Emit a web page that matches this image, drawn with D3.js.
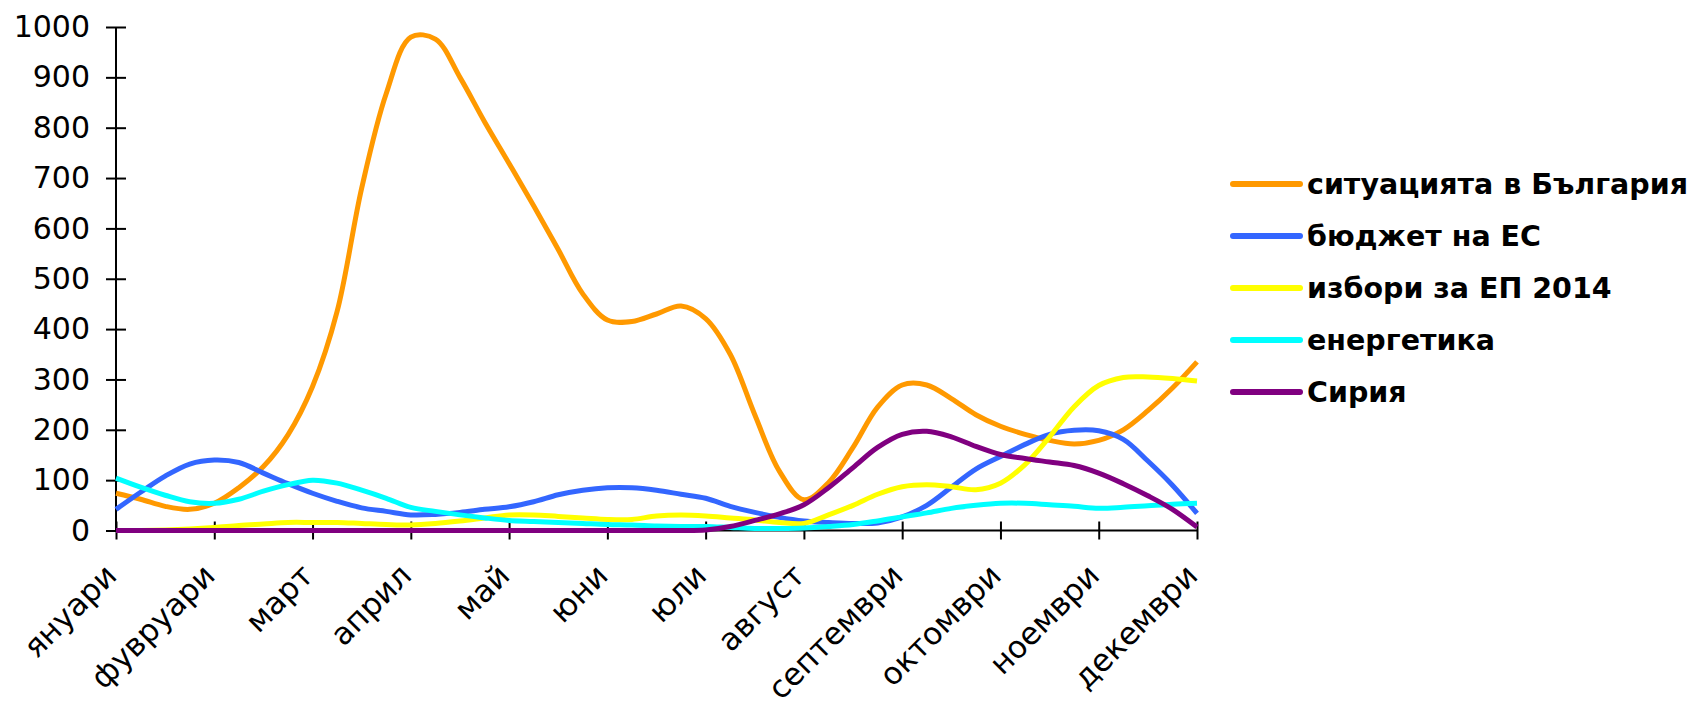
<!DOCTYPE html>
<html>
<head>
<meta charset="utf-8">
<script src="https://cdn.jsdelivr.net/npm/d3@7"></script>
<style>
  html, body { margin: 0; padding: 0; background: #ffffff; }
  svg { display: block; }
</style>
</head>
<body>
<svg id="chart" width="1694" height="713"></svg>
<script>
// ---- Data (values read at quarter-month steps, Jan .. Dec) ----
const months = ["януари", "фувруари", "март", "април", "май", "юни", "юли", "август", "септември", "октомври", "ноември", "декември"];
const yTicks = [0, 100, 200, 300, 400, 500, 600, 700, 800, 900, 1000];
const seriesNames = ["ситуацията в България", "бюджет на ЕС", "избори за ЕП 2014", "енергетика", "Сирия"];
const seriesColors = ["#FF9900", "#3366FF", "#FFFF00", "#00FFFF", "#800080"];

const situationBG = [74, 62, 48, 42, 54, 85, 127, 190, 286, 435, 680, 868, 980, 976, 900, 812, 729, 645, 558, 470, 418, 415, 430, 446, 421, 350, 230, 118, 61, 95, 165, 245, 289, 289, 262, 230, 207, 191, 179, 172, 179, 200, 238, 283, 335];
const budgetEU = [42, 76, 108, 132, 140, 135, 114, 93, 74, 58, 45, 38, 31, 32, 36, 42, 47, 57, 71, 80, 85, 85, 80, 72, 64, 48, 36, 26, 19, 16, 14, 15, 27, 50, 86, 122, 147, 171, 191, 199, 198, 181, 138, 90, 34];
const electionsEP = [0, 0, 1, 3, 6, 10, 13, 16, 16, 16, 14, 12, 11, 14, 19, 25, 31, 31, 28, 25, 22, 22, 29, 31, 29, 25, 21, 16, 14, 31, 50, 72, 87, 91, 87, 81, 94, 131, 186, 246, 288, 304, 305, 302, 297];
const energy = [104, 86, 70, 57, 54, 62, 78, 91, 100, 94, 80, 64, 46, 38, 31, 25, 20, 18, 16, 14, 12, 11, 9, 8, 8, 6, 4, 4, 5, 8, 12, 19, 27, 35, 44, 50, 54, 54, 51, 48, 44, 46, 49, 52, 54];
const syria = [0, 0, 0, 0, 0, 0, 0, 0, 0, 0, 0, 0, 0, 0, 0, 0, 0, 0, 0, 0, 0, 0, 0, 0, 1, 8, 20, 33, 51, 85, 125, 165, 191, 197, 186, 167, 151, 143, 136, 129, 114, 93, 69, 42, 7];

const allSeries = [situationBG, budgetEU, electionsEP, energy, syria];
const stepsPerMonth = 4;

// ---- Layout ----
const svg = d3.select("#chart");
const plotLeft = 116, plotRight = 1197, plotTop = 27, plotBottom = 530.5;

const x = d3.scaleLinear().domain([0, months.length - 1]).range([plotLeft, plotRight]);
const y = d3.scaleLinear().domain([0, 1000]).range([plotBottom, plotTop]);

const fontFamily = "'DejaVu Sans', 'Liberation Sans', sans-serif";

// Y axis
const yAxis = svg.append("g")
  .attr("transform", `translate(${plotLeft},0)`)
  .call(d3.axisLeft(y).tickValues(yTicks).tickSize(10).tickPadding(15).tickFormat(d3.format("d")));
yAxis.select(".domain").attr("stroke", "#000").attr("stroke-width", 2).attr("d", `M0,${plotTop}V${plotBottom}`);
yAxis.selectAll(".tick line").attr("x1", -10).attr("x2", 10).attr("stroke", "#000").attr("stroke-width", 2);
yAxis.selectAll(".tick text")
  .attr("font-family", fontFamily).attr("font-size", 30).attr("fill", "#000").attr("x", -26);

// X axis
const xAxis = svg.append("g")
  .attr("transform", `translate(0,${plotBottom})`)
  .call(d3.axisBottom(x).tickValues(d3.range(months.length)).tickSize(9).tickFormat(i => months[i]));
xAxis.select(".domain").attr("stroke", "#000").attr("stroke-width", 2).attr("d", `M${plotLeft},0H${plotRight}`);
xAxis.selectAll(".tick line").attr("y1", -9).attr("y2", 9).attr("stroke", "#000").attr("stroke-width", 2);
xAxis.selectAll(".tick text")
  .attr("font-family", fontFamily).attr("font-size", 31).attr("fill", "#000")
  .attr("text-anchor", "end")
  .attr("x", null).attr("y", null).attr("dy", null)
  .attr("transform", "translate(2,47) rotate(-45)");

// Lines
const line = d3.line()
  .x((d, i) => x(i / stepsPerMonth))
  .y(d => y(d))
  .curve(d3.curveCatmullRom.alpha(0.5));

svg.append("g").selectAll("path")
  .data(allSeries)
  .join("path")
  .attr("d", d => line(d))
  .attr("fill", "none")
  .attr("stroke", (d, i) => seriesColors[i])
  .attr("stroke-width", 5)
  .attr("stroke-linejoin", "round")
  .attr("stroke-linecap", "butt");

// Legend
const legend = svg.append("g").attr("transform", "translate(1233,184)");
const items = legend.selectAll("g").data(seriesNames).join("g")
  .attr("transform", (d, i) => `translate(0,${i * 52})`);
items.append("line")
  .attr("x1", 0).attr("x2", 67).attr("y1", 0).attr("y2", 0)
  .attr("stroke", (d, i) => seriesColors[i]).attr("stroke-width", 6).attr("stroke-linecap", "round");
items.append("text")
  .attr("x", 74).attr("y", 0).attr("dy", "0.36em")
  .attr("font-family", fontFamily).attr("font-weight", "bold").attr("font-size", 28.5).attr("fill", "#000")
  .text(d => d);
</script>
</body>
</html>
